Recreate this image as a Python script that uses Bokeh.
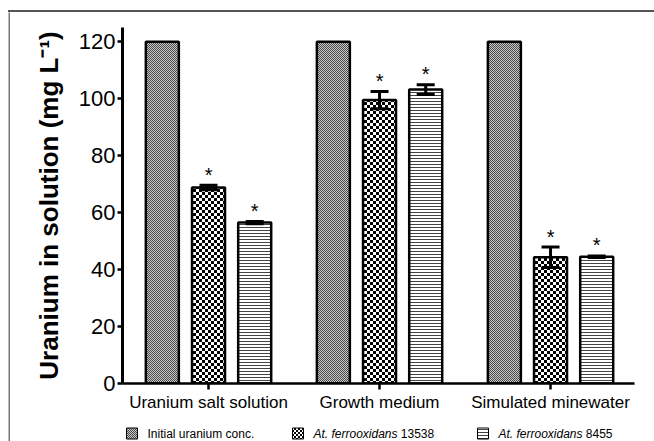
import base64
import struct
import zlib

from bokeh.plotting import figure
from bokeh.models import (FixedTicker, Whisker, TeeHead, ColumnDataSource,
                          Range1d, Spacer, Div, ImageURLTexture)
from bokeh.layouts import column, row
from bokeh.core.properties import value
from bokeh.embed import file_html
from bokeh.resources import INLINE

# ---- data ----
groups = ["Uranium salt solution", "Growth medium", "Simulated minewater"]
initial_conc = [120, 120, 120]
strain_13538 = [68.8, 99.5, 44.3]
err_13538 = [0.8, 3.0, 3.6]
strain_8455 = [56.5, 103.2, 44.5]
err_8455 = [0.4, 1.7, 0.3]
y_ticks = [0, 20, 40, 60, 80, 100, 120]
legend_labels = ["Initial uranium conc.", "At. ferrooxidans", "At. ferrooxidans"]
legend_numbers = ["", "13538", "8455"]

FONT = "Liberation Sans"
offset = 0.27
bar_w = 0.193


# ---- checkerboard textures (tiny PNGs as data URLs) ----
def checker_png(cell, dark, light):
    n = cell * 2
    rows = []
    for yy in range(n):
        row_px = bytearray()
        for xx in range(n):
            c = dark if ((xx // cell) + (yy // cell)) % 2 == 0 else light
            row_px += bytes(c)
        rows.append(b"\x00" + bytes(row_px))
    raw = b"".join(rows)

    def chunk(t, d):
        return (struct.pack(">I", len(d)) + t + d +
                struct.pack(">I", zlib.crc32(t + d) & 0xffffffff))
    data = (b"\x89PNG\r\n\x1a\n" +
            chunk(b"IHDR", struct.pack(">IIBBBBB", n, n, 8, 2, 0, 0, 0)) +
            chunk(b"IDAT", zlib.compress(raw)) + chunk(b"IEND", b""))
    return "data:image/png;base64," + base64.b64encode(data).decode()


fine_tex = ImageURLTexture(url=checker_png(1, (74, 74, 74), (200, 200, 200)))
coarse_tex = ImageURLTexture(url=checker_png(3, (0, 0, 0), (255, 255, 255)))
small_tex = ImageURLTexture(url=checker_png(2, (0, 0, 0), (255, 255, 255)))

style_init = dict(fill_color="#898989", hatch_pattern=value("fine"),
                  hatch_extra={"fine": fine_tex})
style_a = dict(fill_color="#808080", hatch_pattern=value("coarse"),
               hatch_extra={"coarse": coarse_tex})
style_b = dict(fill_color="white", hatch_pattern="horizontal_line", hatch_color="#444444",
               hatch_scale=3, hatch_weight=1)
legend_styles = [style_init,
                 dict(fill_color="#808080", hatch_pattern=value("small"),
                      hatch_extra={"small": small_tex}),
                 style_b]


def strip(w, h, color):
    f = figure(width=w, height=h, output_backend="svg", toolbar_location=None,
               x_axis_location=None, y_axis_location=None, min_border=0,
               title=None, x_range=Range1d(0, 1), y_range=Range1d(0, 1))
    f.background_fill_color = color
    f.border_fill_color = color
    f.outline_line_color = None
    f.grid.visible = False
    return f


# ---- main chart ----
p = figure(width=644, height=412, x_range=Range1d(-0.503, 2.491),
           y_range=Range1d(0, 125), output_backend="svg", title=None,
           toolbar_location=None, min_border_left=112, min_border_right=20,
           min_border_top=15, min_border_bottom=41)
p.grid.visible = False
p.outline_line_color = None

gx = list(range(len(groups)))
x_init = [g - offset for g in gx]
x_a = [g for g in gx]
x_b = [g + offset for g in gx]

p.vbar(x=x_init, top=initial_conc, width=bar_w, bottom=0, line_color="black",
       line_width=2.5, **style_init)
p.vbar(x=x_a, top=strain_13538, width=bar_w, bottom=0, line_color="black",
       line_width=2.5, **style_a)
p.vbar(x=x_b, top=strain_8455, width=bar_w, bottom=0, line_color="black",
       line_width=2.5, **style_b)

ex = x_a + x_b
ev = strain_13538 + strain_8455
ee = err_13538 + err_8455
src = ColumnDataSource(dict(x=ex, upper=[v + e for v, e in zip(ev, ee)],
                            lower=[v - e for v, e in zip(ev, ee)]))
wh = Whisker(base="x", upper="upper", lower="lower", source=src,
             upper_head=TeeHead(size=18, line_width=3, line_color="black"),
             lower_head=TeeHead(size=18, line_width=3, line_color="black"),
             line_width=3, line_color="black", level="overlay")
p.add_layout(wh)

p.text(x=ex, y=[v + e + 3.7 for v, e in zip(ev, ee)], text=["*"] * len(ex),
       text_align="center", text_baseline="alphabetic", text_font_size="20px",
       text_font=value(FONT), text_color="black")

p.xaxis.ticker = FixedTicker(ticks=gx)
p.xaxis.major_label_overrides = {g: name for g, name in zip(gx, groups)}
p.xaxis.major_tick_out = 6
p.xaxis.major_tick_in = 0
p.xaxis.minor_tick_line_color = None
p.xaxis.axis_line_width = 2.5
p.xaxis.major_tick_line_width = 2.5
p.xaxis.major_label_text_font_size = "17px"
p.xaxis.major_label_text_font = FONT
p.xaxis.major_label_text_color = "black"
p.xaxis.major_label_standoff = 3

p.yaxis.ticker = FixedTicker(ticks=y_ticks)
p.yaxis.major_tick_out = 5
p.yaxis.major_tick_in = 0
p.yaxis.minor_tick_line_color = None
p.yaxis.axis_line_width = 3
p.yaxis.major_tick_line_width = 2.5
p.yaxis.major_label_text_font_size = "22px"
p.yaxis.major_label_text_font = FONT
p.yaxis.major_label_text_color = "black"
p.yaxis.major_label_standoff = 2
p.yaxis.axis_label = "Uranium in solution (mg L\u207b\u00b9)"
p.yaxis.axis_label_text_font = FONT
p.yaxis.axis_label_text_font_size = "26px"
p.yaxis.axis_label_text_font_style = "bold"
p.yaxis.axis_label_text_color = "black"
p.yaxis.axis_label_standoff = 12

# ---- legend strip: frame aligned with the main frame, x in page pixels ----
lg = figure(width=644, height=17, output_backend="svg", toolbar_location=None,
            x_axis_location=None, y_axis_location=None, title=None,
            min_border_left=112, min_border_right=20, min_border_top=0,
            min_border_bottom=0,
            x_range=Range1d(122, 634), y_range=Range1d(441, 424))
lg.grid.visible = False
lg.outline_line_color = None
sw_left = [126, 292, 477]
sw_size = 11
sw_cy = 433
txt_x = [147, 313, 498]
italic_w = 87.3
for i in range(3):
    lg.quad(left=[sw_left[i]], right=[sw_left[i] + sw_size],
            top=[sw_cy - sw_size / 2], bottom=[sw_cy + sw_size / 2],
            line_color="black", line_width=1, **legend_styles[i])
    lg.text(x=[txt_x[i]], y=[sw_cy], text=[legend_labels[i]],
            text_font=value(FONT), text_font_size="12px", text_baseline="middle",
            text_font_style="normal" if i == 0 else "italic", text_color="black")
    if legend_numbers[i]:
        lg.text(x=[txt_x[i] + italic_w], y=[sw_cy], text=[legend_numbers[i]],
                text_font=value(FONT), text_font_size="12px",
                text_baseline="middle", text_color="black")

# ---- frame lines ----
top_line = Div(text="", width=646, height=2, margin=0,
               styles={"background-color": "#555555"})
left_line = strip(2, 429, "#777777")

inner = column(p, lg)
mid = row(left_line, inner)
right_block = column(top_line, mid)
layout = column(Spacer(width=654, height=10),
                row(Spacer(width=8, height=431), right_block))

open("out.html", "w").write(file_html(layout, INLINE))
